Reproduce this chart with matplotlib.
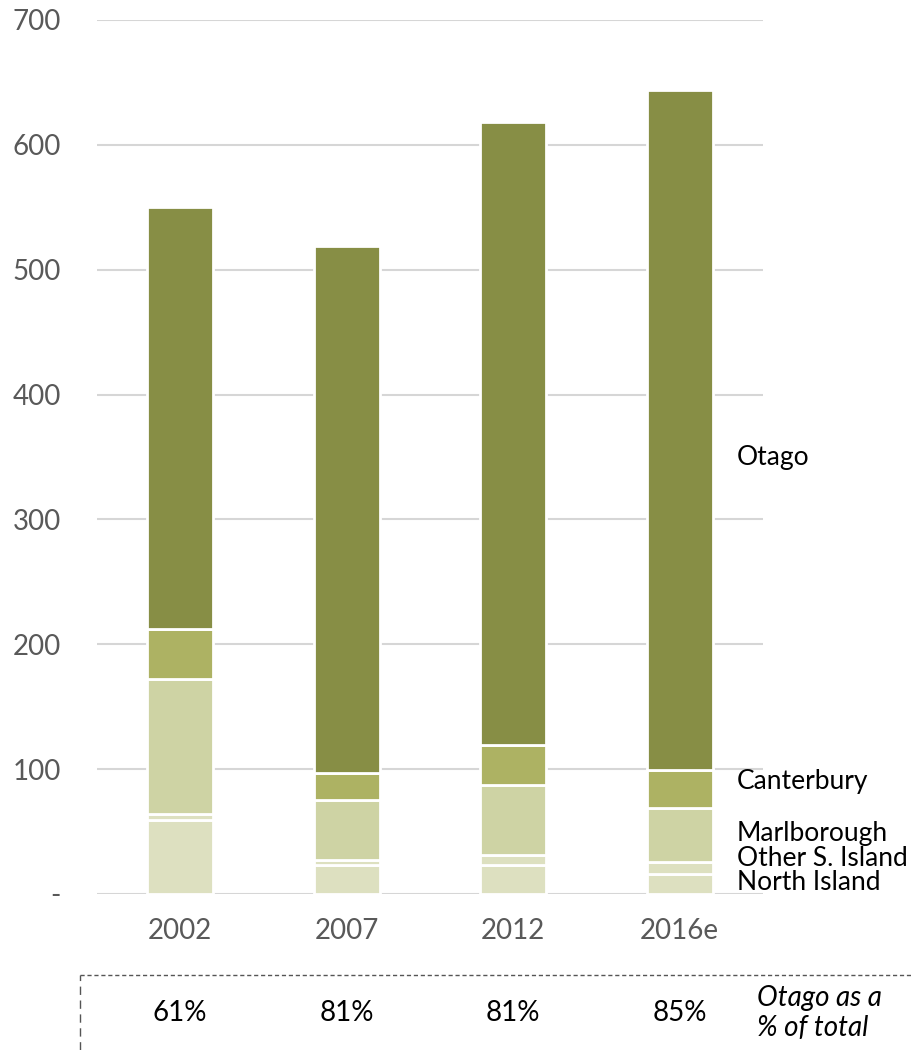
import matplotlib.pyplot as plt
from matplotlib.lines import Line2D

plt.rcParams['font.family'] = ['Lato', 'DejaVu Sans']

years = ['2002', '2007', '2012', '2016e']
north_island = [59, 23, 23, 16]
other_s_island = [5, 4, 8, 10]
marlborough = [108, 48, 56, 43]
canterbury = [40, 22, 32, 30]
otago = [338, 422, 499, 545]

series = [
    ('North Island', north_island, '#dde0c0'),
    ('Other S. Island', other_s_island, '#dde0c0'),
    ('Marlborough', marlborough, '#ced3a4'),
    ('Canterbury', canterbury, '#adb263'),
    ('Otago', otago, '#878e45'),
]

fig = plt.figure(figsize=(9.12, 10.5), dpi=100)
ax = fig.add_axes([97 / 912, 156 / 1050, 666 / 912, 874 / 1050])

x = range(len(years))
bottom = [0] * len(years)
for name, vals, color in series:
    ax.bar(x, vals, bottom=bottom, width=0.395, color=color,
           edgecolor='white', linewidth=2, zorder=3)
    bottom = [b + v for b, v in zip(bottom, vals)]

ax.set_xlim(-0.5, 3.5)
ax.set_ylim(0, 700)
ax.set_yticks(range(0, 701, 100))
ax.set_yticklabels(['-'] + [str(v) for v in range(100, 701, 100)])
ax.set_xticks(list(x))
ax.set_xticklabels(years)
ax.yaxis.grid(True, color='#d6d6d6', linewidth=1.5, zorder=0)
ax.set_axisbelow(True)
for s in ax.spines.values():
    s.set_visible(False)
ax.tick_params(axis='y', length=0, pad=26, labelsize=20, labelcolor='#595959')
ax.tick_params(axis='x', length=0, pad=17, labelsize=20, labelcolor='#595959')

# series labels beside the last bar
label_y = {'Otago': 458, 'Canterbury': 782, 'Marlborough': 833,
           'Other S. Island': 859, 'North Island': 883}
for name, py in label_y.items():
    fig.text(737 / 912, 1 - py / 1050, name, fontsize=19, color='black',
             ha='left', va='center')

# Otago share table
totals = [sum(v) for v in zip(*(s[1] for s in series))]
shares = [o / t for o, t in zip(otago, totals)]
fig.add_artist(Line2D([80 / 912, 1], [1 - 975 / 1050] * 2, transform=fig.transFigure,
                      color='#555555', linestyle=(0, (3, 2)), linewidth=1))
fig.add_artist(Line2D([80 / 912] * 2, [0, 1 - 975 / 1050], transform=fig.transFigure,
                      color='#555555', linestyle=(0, (6, 4)), linewidth=1))
for i, sh in enumerate(shares):
    fx = (97 + (i + 0.5) * 666 / 4) / 912
    fig.text(fx, 1 - 1013 / 1050, f'{sh:.0%}', fontsize=20, ha='center', va='center')
fig.text(757 / 912, 1 - 998 / 1050, 'Otago as a', fontsize=20, style='italic',
         ha='left', va='center')
fig.text(757 / 912, 1 - 1028 / 1050, '% of total', fontsize=20, style='italic',
         ha='left', va='center')

fig.savefig('out.png', dpi=100)
